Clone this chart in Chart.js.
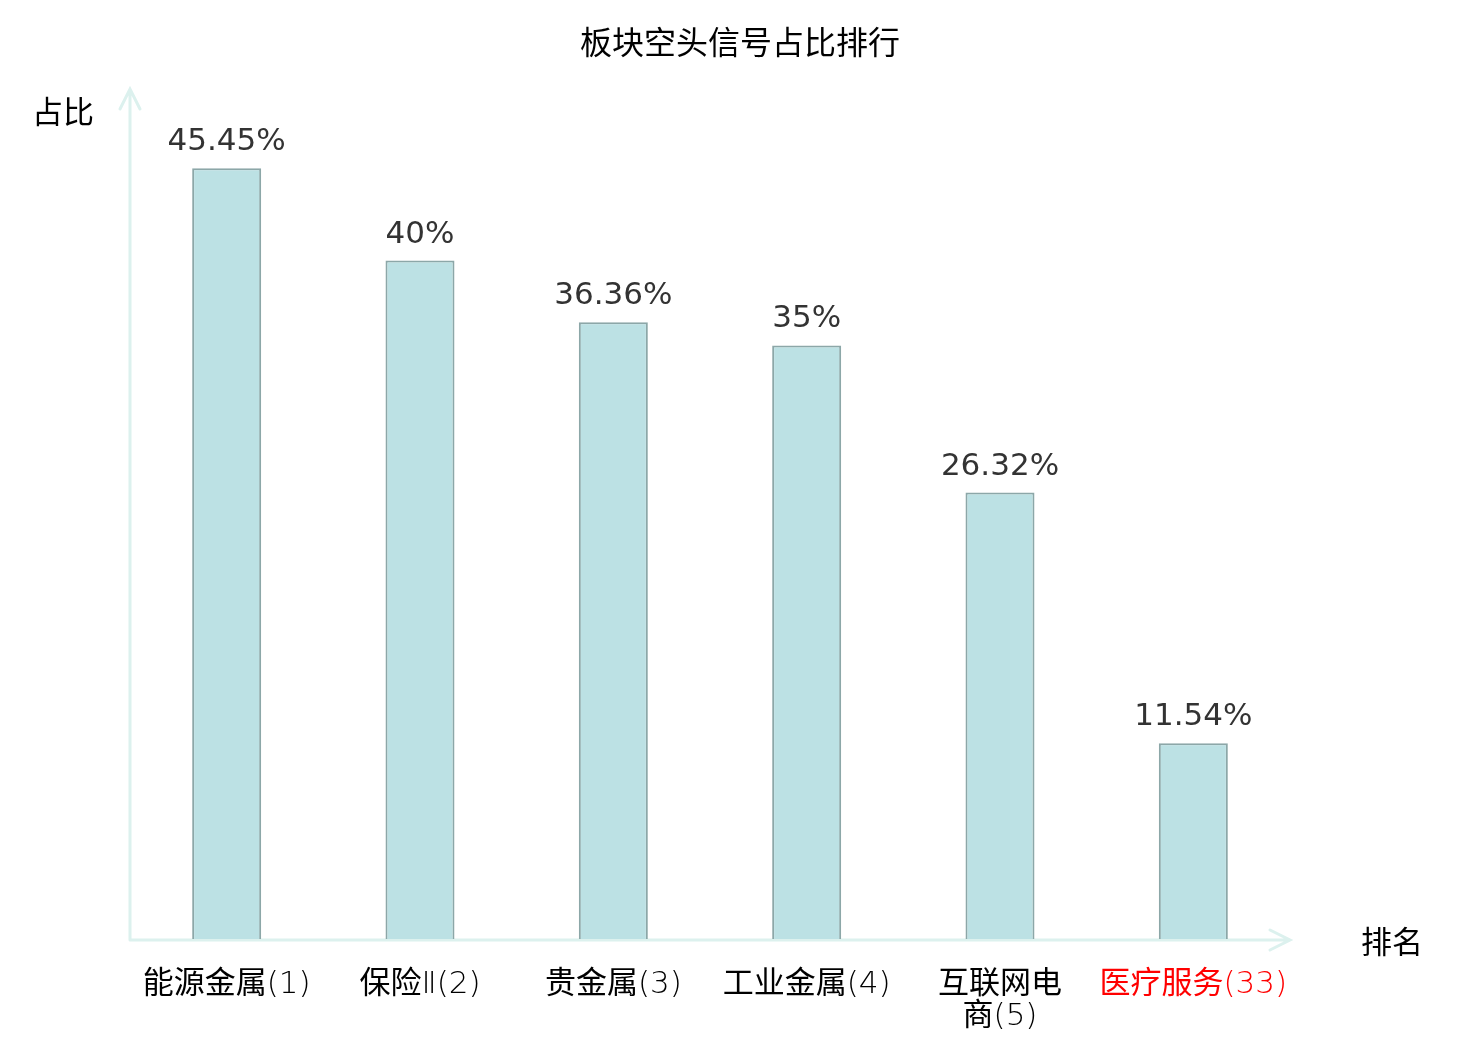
<!DOCTYPE html>
<html lang="zh">
<head>
    <meta charset="UTF-8">
    <title>板块空头信号占比排行</title>
    <script src="https://cdn.jsdelivr.net/npm/chart.js"></script>
    <style>
        body { margin: 0; background: #fff; }
        canvas { display: block; }
    </style>
</head>
<body>
    <canvas id="rankChart" width="1480" height="1040"></canvas>

    <script>
        // data
        const chartTitle = "板块空头信号占比排行";
        const categories = ["能源金属(1)", "保险Ⅱ(2)", "贵金属(3)", "工业金属(4)", ["互联网电", "商(5)"], "医疗服务(33)"];
        const shares = [45.45, 40, 36.36, 35, 26.32, 11.54];
        const shareLabels = ["45.45%", "40%", "36.36%", "35%", "26.32%", "11.54%"];
        const highlightIndex = 5;
        const yAxisName = "占比";
        const xAxisName = "排名";

        const cjkFont = "'Noto Sans CJK SC', 'Noto Sans', sans-serif";
        const axisColor = "#dcf1ee";

        // title, axis lines with arrow heads and axis names, drawn under the bars
        const arrowAxes = {
            id: "arrowAxes",
            beforeDatasetsDraw(chart) {
                const { ctx, chartArea, width } = chart;
                const { left, right, top, bottom } = chartArea;
                ctx.save();
                ctx.strokeStyle = axisColor;
                ctx.lineWidth = 3;
                ctx.lineCap = "round";
                ctx.beginPath();
                ctx.moveTo(left, bottom + 1);
                ctx.lineTo(left, top - 2);
                ctx.moveTo(left - 10, top + 18);
                ctx.lineTo(left, top - 2);
                ctx.lineTo(left + 10, top + 18);
                ctx.moveTo(left, bottom + 1);
                ctx.lineTo(right, bottom + 1);
                ctx.moveTo(right - 20, bottom - 9);
                ctx.lineTo(right, bottom + 1);
                ctx.lineTo(right - 20, bottom + 11);
                ctx.stroke();

                ctx.fillStyle = "#000";
                ctx.textAlign = "center";
                ctx.textBaseline = "middle";
                ctx.font = "32px " + cjkFont;
                ctx.fillText(chartTitle, width / 2, 42);
                ctx.font = "31px " + cjkFont;
                ctx.fillText(yAxisName, left - 67, top + 20);
                ctx.fillText(xAxisName, right + 102, bottom + 2);
                ctx.restore();
            },
            afterDatasetsDraw(chart) {
                const { ctx } = chart;
                const meta = chart.getDatasetMeta(0);
                ctx.save();
                ctx.fillStyle = "#333333";
                ctx.font = "31px 'DejaVu Sans', sans-serif";
                ctx.textAlign = "center";
                ctx.textBaseline = "alphabetic";
                meta.data.forEach((bar, i) => {
                    ctx.fillText(shareLabels[i], bar.x, bar.y - 18);
                });
                ctx.restore();
            }
        };

        const ctx = document.getElementById("rankChart").getContext("2d");
        new Chart(ctx, {
            type: "bar",
            data: {
                labels: categories,
                datasets: [{
                    data: shares,
                    backgroundColor: "#bce1e4",
                    borderColor: "#8ca7a8",
                    borderWidth: 2,
                    categoryPercentage: 1,
                    barPercentage: 0.357
                }]
            },
            options: {
                responsive: false,
                animation: false,
                layout: {
                    padding: { left: 130, right: 190, top: 91, bottom: 0 }
                },
                plugins: {
                    legend: { display: false },
                    tooltip: { enabled: false }
                },
                scales: {
                    x: {
                        grid: { display: false, drawTicks: false },
                        border: { display: false },
                        ticks: {
                            padding: 30,
                            maxRotation: 0,
                            autoSkip: false,
                            font: { family: "'DejaVu Sans ExtraLight', 'DejaVu Sans Light', " + cjkFont, size: 31, lineHeight: 1.04 },
                            color: c => c.index === highlightIndex ? "#ff0000" : "#000"
                        },
                        afterFit: scale => { scale.height = 101; }
                    },
                    y: {
                        display: false,
                        min: 0,
                        max: 50
                    }
                }
            },
            plugins: [arrowAxes]
        });
    </script>
</body>
</html>
